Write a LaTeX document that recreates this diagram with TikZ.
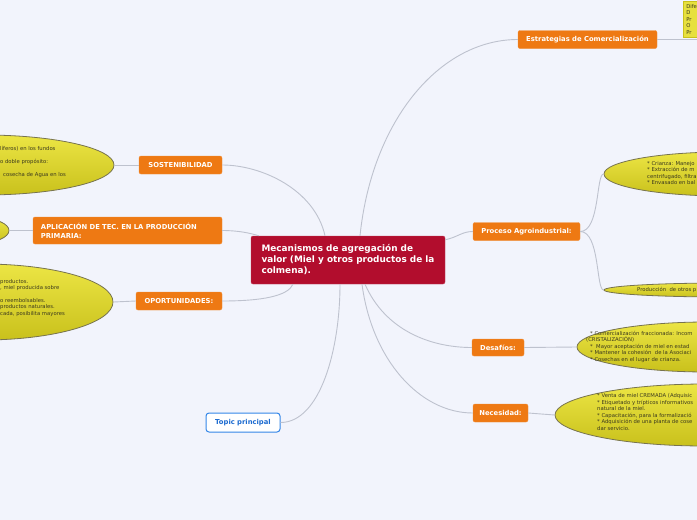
\documentclass[tikz,border=0pt]{standalone}
\usepackage{fontspec}
\setmainfont{DejaVu Sans}
\usetikzlibrary{shapes.geometric}
\definecolor{bgpale}{HTML}{F2F4FC}
\definecolor{mmorange}{HTML}{EE7913}
\definecolor{mmred}{HTML}{B20D2D}
\definecolor{lnkgray}{HTML}{BEC2CE}
\definecolor{ylwtop}{HTML}{ECE544}
\definecolor{ylwbot}{HTML}{C9C11C}
\definecolor{ylwedge}{HTML}{77734F}
\definecolor{txtdark}{HTML}{3C3A1E}
\definecolor{tpblue}{HTML}{3486E8}
\definecolor{tptext}{HTML}{1B6AD0}

\begin{document}
\begin{tikzpicture}[x=1pt, y=-1pt,
  branch/.style={
    fill=mmorange, draw=mmorange!85!white, rounded corners=2pt,
    text=white, font=\fontsize{6.8}{8.8}\selectfont\bfseries,
    inner sep=0pt, minimum height=18pt, align=left
  },
  leaf/.style={
    ellipse, draw=ylwedge, line width=0.8pt, top color=ylwtop, bottom color=ylwbot,
    inner sep=0pt
  },
  leaftext/.style={
    font=\fontsize{5.3}{6.5}\selectfont, text=txtdark, align=left, inner sep=0pt
  },
  link/.style={lnkgray, line width=0.9pt},
]

% Background
\useasboundingbox (0,0) rectangle (697,520);
\fill[bgpale] (0,0) rectangle (697,520);

% =============================================
% Central topic
% =============================================
\node[fill=mmred, draw=mmred!80!white, rounded corners=2pt, text=white,
      font=\fontsize{8.9}{11}\selectfont\bfseries, align=left,
      minimum width=194pt, minimum height=48pt, inner sep=0pt]
  (central) at (348,260)
  {Mecanismos de agregación de\\valor (Miel y otros productos de la\\colmena).};

% =============================================
% Right branches
% =============================================
\node[branch, minimum width=139pt] (estr) at (587.5,39.5) {Estrategias de Comercialización};
\node[branch, minimum width=107pt] (proc) at (526.5,231.5) {Proceso Agroindustrial:};
\node[branch, minimum width=52pt, minimum height=17pt] (desaf) at (498,347.5) {Desafíos:};
\node[branch, minimum width=55pt] (neces) at (500.5,413) {Necesidad:};

\node[fill=white, draw=tpblue, line width=1pt, rounded corners=3pt, text=tptext,
      font=\fontsize{6.8}{8}\selectfont\bfseries,
      minimum width=74pt, minimum height=19pt, inner sep=0pt]
  (topic) at (243,422.5) {Topic principal};

% =============================================
% Left branches
% =============================================
\node[branch, minimum width=83pt] (sost) at (180.5,165) {SOSTENIBILIDAD};
\node[branch, minimum width=189pt, minimum height=27pt, text width=173pt] (aplic) at (127.5,230.5)
  {APLICACIÓN DE TEC. EN LA PRODUCCIÓN\\PRIMARIA:};
\node[branch, minimum width=86pt] (oport) at (179,301) {OPORTUNIDADES:};

% =============================================
% Leaves
% =============================================
\node[fill=ylwtop!85!ylwbot, draw=ylwbot, line width=0.5pt, anchor=south west,
      leaftext, inner sep=3pt, text width=40pt]
  (dif) at (683,37.5) {Dife\\* D\\* Pr\\* O\\* Pr};

\node[leaf, minimum width=240pt, minimum height=44pt] (e-proc1) at (724,174) {};
\node[leaftext, anchor=north west] (t-proc1) at (647,161)
  {* Crianza: Manejo\\* Extracción de m\\centrifugado, filtra\\* Envasado en bal};

\node[leaf, minimum width=240pt, minimum height=14pt] (e-proc2) at (724,290) {};
\node[leaftext, anchor=west] (t-proc2) at (637,290) {Producción\ \ de otros p};

\node[leaf, minimum width=260pt, minimum height=50pt] (e-desaf) at (707,347) {};
\node[leaftext, anchor=north west] (t-desaf) at (586,331)
  {\hspace*{4pt}* Comercialización fraccionada: Incom\\(CRISTALIZACIÓN)\\
   \hspace*{4pt}*\ \ Mayor aceptación de miel en estad\\
   \hspace*{4pt}* Mantener la cohesión\ \ de la Asociaci\\
   \hspace*{4pt}* Cosechas en el lugar de crianza.};

\node[leaf, minimum width=300pt, minimum height=62pt] (e-neces) at (705,415) {};
\node[leaftext, anchor=north west] (t-neces) at (597,393.5)
  {* Venta de miel CREMADA (Adquisic\\* Etiquetado y trípticos informativos\\
   natural de la miel.\\* Capacitación, para la formalizació\\
   * Adquisición de una planta de cose\\dar servicio.};

\node[leaf, minimum width=260pt, minimum height=60pt] (e-sost) at (-16,165) {};
\node[leaftext, anchor=north west, font=\fontsize{5.3}{12.8}\selectfont] (t-sost) at (0,146.5)
  {líferos) en los fundos\\o doble propósito:\\\hspace*{3pt}cosecha de Agua en los};

\node[leaf, minimum width=60pt, minimum height=25pt] (e-aplic) at (-21,230.5) {};

\node[leaf, minimum width=260pt, minimum height=76pt] (e-oport) at (-17,302) {};
\node[leaftext, anchor=north west, font=\fontsize{5.3}{6.4}\selectfont] (t-oport) at (0,279)
  {productos.\\, miel producida sobre\\[6.4pt]o reembolsables.\\productos naturales.\\
   cada, posibilita mayores};

% =============================================
% Connectors
% =============================================
\draw[link] ([xshift=12pt]central.north) .. controls (372,120) and (440,39.5) .. (estr.west);
\draw[link] ([yshift=-4pt]central.north east) .. controls (458,237) and (462,231.5) .. (proc.west);
\draw[link] ([xshift=17pt]central.south) .. controls (385,330) and (430,347.5) .. (desaf.west);
\draw[link] ([xshift=14pt]central.south) .. controls (372,360) and (420,413) .. (neces.west);
\draw[link] ([xshift=-8pt]central.south) .. controls (340,350) and (320,422.5) .. (topic.east);
\draw[link] ([xshift=-23pt]central.north) .. controls (315,190) and (262,165) .. (sost.east);
\draw[link] (aplic.east) .. controls (238,230.5) and (250,233) .. ([xshift=8pt]central.north west);
\draw[link] (oport.east) .. controls (262,301) and (288,296) .. ([xshift=-55pt]central.south);

\draw[link] (estr.east) -- (estr.east -| dif.east);
\draw[link] (proc.east) .. controls (600,231.5) and (596,174) .. (e-proc1.west);
\draw[link] (proc.east) .. controls (600,231.5) and (596,290) .. (e-proc2.west);
\draw[link] (desaf.east) -- (e-desaf.west);
\draw[link] (neces.east) -- (e-neces.west);
\draw[link] (sost.west) -- (e-sost.east);
\draw[link] (aplic.west) -- (e-aplic.east);
\draw[link] (oport.west) -- (e-oport.east);

\end{tikzpicture}
\end{document}
